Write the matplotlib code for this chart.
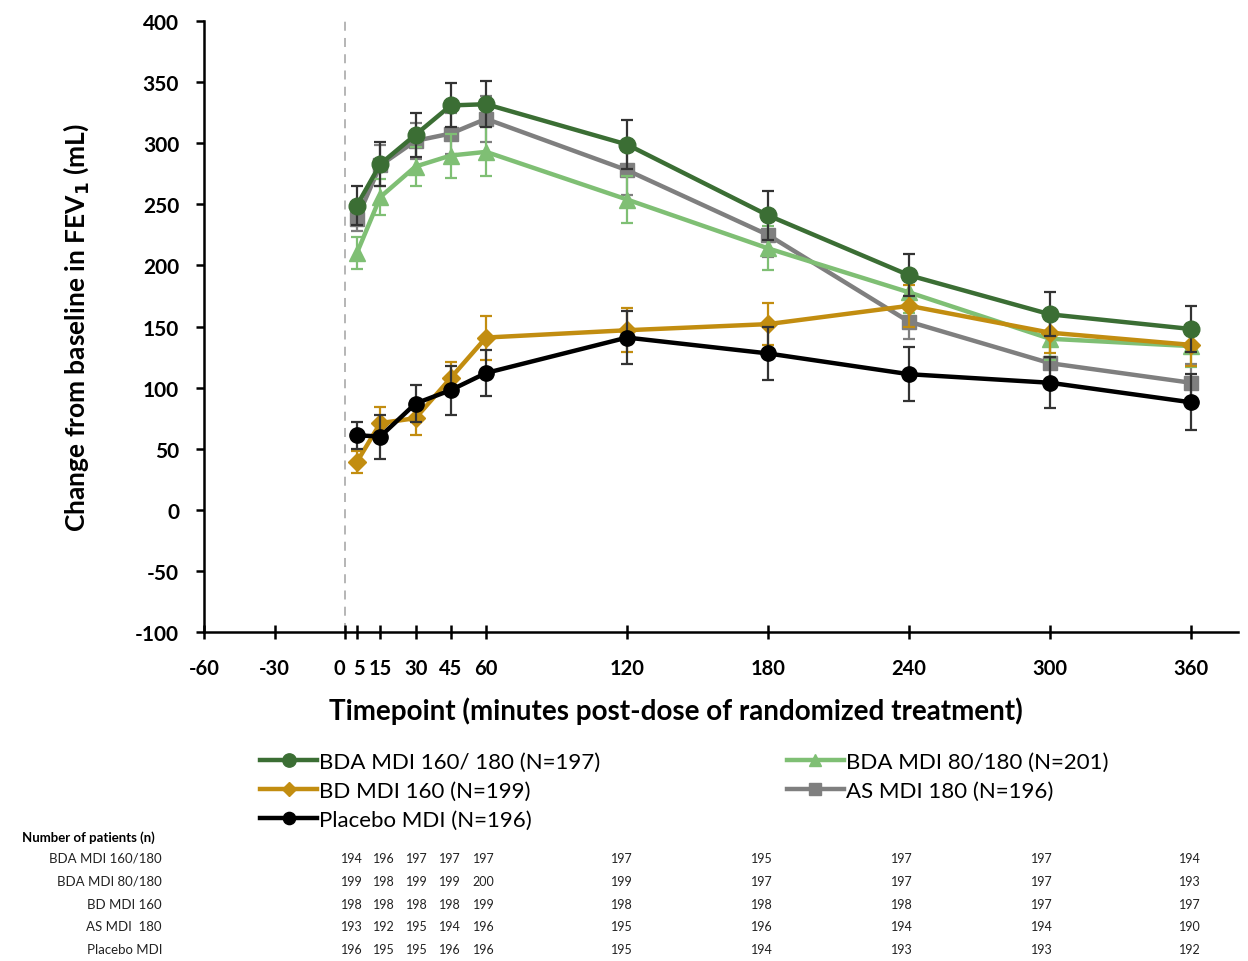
import numpy as np
import matplotlib
matplotlib.use("Agg")
import matplotlib.pyplot as plt
from matplotlib.transforms import blended_transform_factory, ScaledTranslation

# timepoints (minutes post-dose)
t = [5, 15, 30, 45, 60, 120, 180, 240, 300, 360]

# mean change from baseline in FEV1 (mL) and standard errors
bda160 = [249, 283, 307, 331, 332, 299, 241, 192, 160, 148]
bda160_se = [16, 18, 18, 18, 19, 20, 20, 17, 18, 19]
bda80 = [210, 256, 281, 290, 293, 254, 214, 178, 140, 134]
bda80_se = [13, 15, 16, 18, 20, 19, 18, 17, 17, 17]
bd160 = [39, 71, 75, 108, 141, 147, 152, 167, 145, 135]
bd160_se = [9, 13, 14, 13, 18, 18, 17, 17, 17, 17]
as180 = [238, 282, 302, 308, 320, 278, 225, 154, 120, 104]
as180_se = [10, 17, 15, 17, 19, 20, 18, 14, 15, 15]
placebo = [61, 60, 87, 98, 112, 141, 128, 111, 104, 88]
placebo_se = [11, 18, 15, 20, 19, 22, 22, 22, 21, 23]

labels = ["BDA MDI 160/ 180 (N=197)", "BDA MDI 80/180 (N=201)",
          "BD MDI 160 (N=199)", "AS MDI 180 (N=196)", "Placebo MDI (N=196)"]

# number of patients per timepoint
row_names = ["BDA MDI 160/180", "BDA MDI 80/180", "BD MDI 160", "AS MDI  180", "Placebo MDI"]
n_bda160 = [194, 196, 197, 197, 197, 197, 195, 197, 197, 194]
n_bda80 = [199, 198, 199, 199, 200, 199, 197, 197, 197, 193]
n_bd160 = [198, 198, 198, 198, 199, 198, 198, 198, 197, 197]
n_as180 = [193, 192, 195, 194, 196, 195, 196, 194, 194, 190]
n_placebo = [196, 195, 195, 196, 196, 195, 194, 193, 193, 192]

xticks = [-60, -30, 0, 5, 15, 30, 45, 60, 120, 180, 240, 300, 360]

c_dk = "#3b6e34"
c_lt = "#7fbf74"
c_gold = "#c28d10"
c_gray = "#7f7f7f"
c_blk = "#000000"

plt.rcParams["font.family"] = ["Lato", "DejaVu Sans"]
plt.rcParams["axes.unicode_minus"] = False

fig = plt.figure(figsize=(12.48, 9.62), dpi=100)
ax = fig.add_axes([0.1635, 0.342, 0.8285, 0.635])

ax.axvline(0, color="#b0b0b0", ls=(0, (5, 4)), lw=1.3, zorder=0)

series = [
    (as180, as180_se, c_gray, "s", 10, labels[3], 3),
    (bda80, bda80_se, c_lt, "^", 11, labels[1], 4),
    (bd160, bd160_se, c_gold, "D", 9, labels[2], 5),
    (placebo, placebo_se, c_blk, "o", 11, labels[4], 6),
    (bda160, bda160_se, c_dk, "o", 12, labels[0], 7),
]
handles = {}
for y, se, col, mk, ms, lab, z in series:
    ecol = "#333333" if col in (c_blk, c_dk) else col
    ax.errorbar(t, y, yerr=se, fmt="none", ecolor=ecol, elinewidth=1.6,
                capsize=4, capthick=1.6, zorder=z)
    h, = ax.plot(t, y, color=col, lw=3.2, marker=mk, ms=ms, label=lab, zorder=z)
    handles[lab] = h

ax.set_xlim(-60, 380)
ax.set_ylim(-100, 400)
ax.set_yticks(np.arange(-100, 401, 50))
ax.set_xticks(xticks)
ax.spines["top"].set_visible(False)
ax.spines["right"].set_visible(False)
ax.spines["left"].set_linewidth(1.8)
ax.spines["bottom"].set_linewidth(1.8)
ax.tick_params(axis="y", direction="out", length=6, width=1.8, labelsize=15, pad=12)
ax.tick_params(axis="x", direction="inout", length=10, width=1.8, labelsize=14.5, pad=14)
for lb in ax.get_xticklabels() + ax.get_yticklabels():
    lb.set_fontweight("bold")
# nudge the "0" and "5" labels apart
xl = ax.get_xticklabels()
xl[2].set_transform(xl[2].get_transform() + ScaledTranslation(-4 / 72, 0, fig.dpi_scale_trans))
xl[3].set_transform(xl[3].get_transform() + ScaledTranslation(1.5 / 72, 0, fig.dpi_scale_trans))

ax.set_ylabel("Change from baseline in FEV$_\\mathbf{1}$ (mL)", fontsize=19,
              fontweight="bold", labelpad=32)
ax.set_xlabel("Timepoint (minutes post-dose of randomized treatment)", fontsize=20,
              fontweight="bold", labelpad=14)
ax.xaxis.set_label_coords(0.4565, -0.105)

order = [labels[0], labels[2], labels[4], labels[1], labels[3]]
fig.legend([handles[k] for k in order], order, ncol=2, frameon=False,
           loc="upper left", bbox_to_anchor=(0.1925, 0.2383), fontsize=16,
           handlelength=2.55, handletextpad=0.1, columnspacing=8.4,
           labelspacing=0.4, markerscale=0.8)

# patient count table, columns spread a little around the early timepoints
tbl = blended_transform_factory(ax.transData, fig.transFigure)
col_x = [3, 16.5, 30.5, 44.5, 59, 118, 177.5, 237, 296.5, 359.5]
fig.text(22 / 1248, 1 - 838 / 962, "Number of patients (n)", fontsize=9.5,
         fontweight="bold", va="center", ha="left")
rows = [n_bda160, n_bda80, n_bd160, n_as180, n_placebo]
row_y = [859, 882, 905, 927, 950]
for name, vals, py in zip(row_names, rows, row_y):
    yf = 1 - py / 962
    fig.text(162 / 1248, yf, name, fontsize=9.5, ha="right",
             va="center", color="#222222")
    for cx, v in zip(col_x, vals):
        ax.text(cx, yf, str(v), transform=tbl, fontsize=9,
                ha="center", va="center", color="#222222", clip_on=False)

fig.savefig("out.png", dpi=100)
